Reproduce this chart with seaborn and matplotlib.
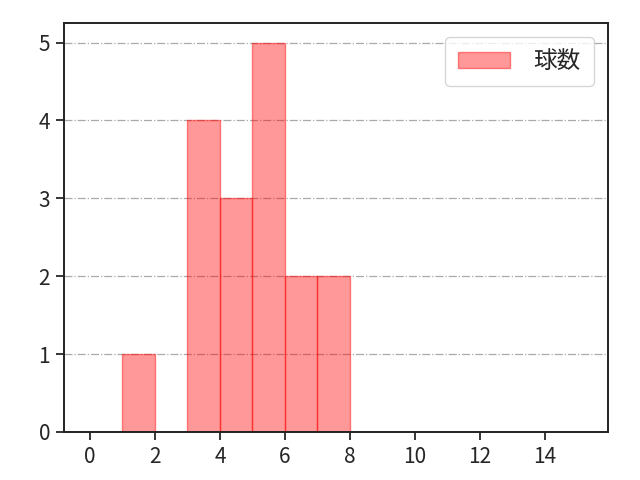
import matplotlib
matplotlib.use("Agg")
import matplotlib.pyplot as plt
import numpy as np
import pandas as pd
import seaborn as sns

# pitch counts (bins of width 1)
pitch_counts = [1, 3, 3, 3, 3, 4, 4, 4, 5, 5, 5, 5, 5, 6, 6, 7, 7]
bin_edges = [1, 2, 3, 4, 5, 6, 7, 8]
x_ticks = [0, 2, 4, 6, 8, 10, 12, 14]
y_ticks = [0, 1, 2, 3, 4, 5]
label = "球数"

sns.set_style("ticks")
plt.rcParams["font.family"] = ["Noto Sans CJK JP", "DejaVu Sans"]

df = pd.DataFrame({label: pitch_counts})

fig = plt.figure(figsize=(6.4, 4.8), dpi=100)
ax = fig.add_axes([0.1, 0.1, 0.85, 0.852])
sns.histplot(data=df, x=label, bins=bin_edges, ax=ax, color="red", alpha=0.4,
             edgecolor=(1, 0, 0, 0.45), linewidth=1.0, label=label)

ax.set_xlim(-0.8, 15.95)
ax.set_ylim(0, 5.25)
ax.set_xticks(x_ticks)
ax.set_yticks(y_ticks)
ax.set_xlabel("")
ax.set_ylabel("")
ax.tick_params(labelsize=15, width=1.3, length=6, pad=4)
ax.grid(axis="y", linestyle="-.", color="#aaaaaa", linewidth=0.9)
ax.set_axisbelow(True)
for side in ["top", "right", "bottom", "left"]:
    ax.spines[side].set_visible(True)
    ax.spines[side].set_color("#222222")
    ax.spines[side].set_linewidth(1.4)
ax.legend(loc="upper right", fontsize=17, handlelength=2.2, handletextpad=1.0,
          borderpad=0.55, borderaxespad=0.6)

fig.savefig("out.png", dpi=100)
